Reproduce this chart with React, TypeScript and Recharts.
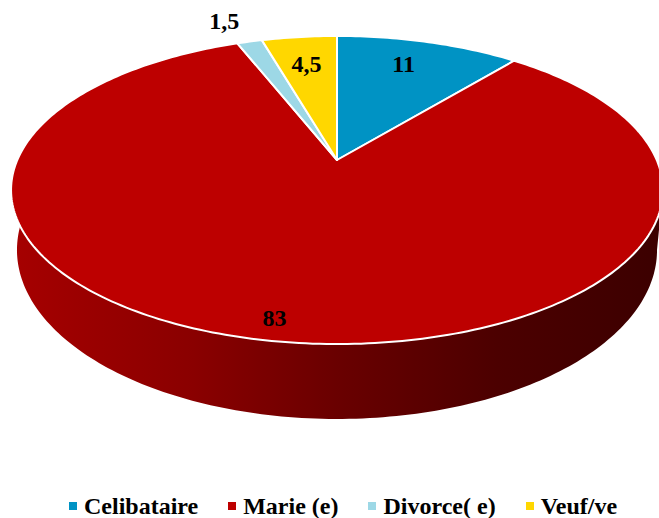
import React from 'react';
import { PieChart, Pie, Legend } from 'recharts';

const categories = ['Celibataire', 'Marie (e)', 'Divorce( e)', 'Veuf/ve'];
const shares = [11, 83, 1.5, 4.5];
const sliceColors = ['#0093c4', '#bd0000', '#9dd8e6', '#ffd700'];

const pieData = categories.map((name, i) => ({ name, value: shares[i], fill: sliceColors[i] }));

// perspective of the tilted disc, circle point (u, v) goes to the screen
const TILT = 0.1948;
const TOP_FACE = { sx: 319.7, sy: 148.2, dy: 0 };
const BOTTOM_FACE = { sx: 313.9, sy: 162.6, dy: 57 };
const RIGHT_EDGE = -11.2;
const LEFT_EDGE = -191.2;

// label placement: radius along the mid angle, then a small nudge
const labelPlacement = [
  { r: 0.8, dx: -9, dy: 1 },
  { r: 0.9, dx: -8, dy: -1 },
  { r: 1.2, dx: -11, dy: -1 },
  { r: 0.75, dx: -1, dy: 0 },
];

type Face = { sx: number; sy: number; dy: number };

const project = (cx: number, cy: number, deg: number, r: number, face: Face = TOP_FACE) => {
  const a = (deg * Math.PI) / 180;
  const u = Math.cos(a) * r;
  const v = Math.sin(a) * r;
  const d = 1 + TILT * v;
  return [cx + (face.sx * u) / d, cy + face.dy - (face.sy * v) / d];
};

const arcPoints = (cx: number, cy: number, from: number, to: number, face: Face = TOP_FACE) => {
  const steps = Math.max(2, Math.ceil(Math.abs(to - from)));
  const pts: number[][] = [];
  for (let i = 0; i <= steps; i++) {
    pts.push(project(cx, cy, from + ((to - from) * i) / steps, 1, face));
  }
  return pts;
};

const toPath = (pts: number[][]) =>
  pts.map((p, i) => `${i ? 'L' : 'M'}${p[0].toFixed(2)} ${p[1].toFixed(2)}`).join(' ');

const TopSlice = (props: any) => {
  const { cx, cy, startAngle, endAngle, fill } = props;
  const d = `M${cx} ${cy} ${toPath(arcPoints(cx, cy, startAngle, endAngle)).replace('M', 'L')} Z`;
  return <path d={d} fill={fill} stroke="#ffffff" strokeWidth={2} strokeLinejoin="round" />;
};

// side wall, only for the part of a slice that faces the viewer
const WallSlice = (props: any) => {
  const { cx, cy, startAngle, endAngle, index } = props;
  const from = Math.min(startAngle, RIGHT_EDGE);
  const to = Math.max(endAngle, LEFT_EDGE);
  if (from <= to) return null;
  const rim = arcPoints(cx, cy, from, to);
  const base = arcPoints(cx, cy, from, to, BOTTOM_FACE).reverse();
  const id = `wallShade${index}`;
  return (
    <g>
      <defs>
        <linearGradient id={id} gradientUnits="userSpaceOnUse" x1={11} y1={0} x2={659} y2={0}>
          <stop offset="0%" stopColor="#a60000" />
          <stop offset="28%" stopColor="#8a0000" />
          <stop offset="50%" stopColor="#6a0000" />
          <stop offset="75%" stopColor="#4c0000" />
          <stop offset="100%" stopColor="#3c0000" />
        </linearGradient>
      </defs>
      <path d={`${toPath(rim)} ${toPath(base).replace('M', 'L')} Z`} fill={`url(#${id})`} />
    </g>
  );
};

const renderLabel = (props: any) => {
  const { cx, cy, midAngle, index, value } = props;
  const place = labelPlacement[index];
  const [x, y] = project(cx, cy, midAngle, place.r);
  return (
    <text
      x={x + place.dx}
      y={y + place.dy}
      textAnchor="middle"
      dominantBaseline="central"
      fill="#000000"
      fontSize={24}
      fontWeight="bold"
      fontFamily="'Liberation Serif', serif"
    >
      {String(value).replace('.', ',')}
    </text>
  );
};

const renderLegend = (props: any) => {
  // both pies report their items, keep one of each
  const items = categories.map((name) => props.payload.find((p: any) => p.value === name)).filter(Boolean);
  return (
    <div style={{ display: 'flex', alignItems: 'center', gap: 30, whiteSpace: 'nowrap' }}>
      {items.map((item: any, i: number) => (
        <span key={item.value} style={{ display: 'flex', alignItems: 'center', gap: 7 }}>
          <span style={{ width: 8, height: 8, background: sliceColors[i], display: 'inline-block' }} />
          <span style={{ fontSize: 24, lineHeight: '28px', fontWeight: 'bold', fontFamily: "'Liberation Serif', serif", color: '#000' }}>
            {item.value}
          </span>
        </span>
      ))}
    </div>
  );
};

export default function App() {
  return (
    <div style={{ position: 'absolute', left: 0, top: 0, width: 659, height: 518, overflow: 'hidden' }}>
      <PieChart width={659} height={518} margin={{ top: 0, right: 0, bottom: 0, left: 0 }}>
        <Pie
          data={pieData}
          dataKey="value"
          nameKey="name"
          cx={337}
          cy={160}
          outerRadius={100}
          startAngle={90}
          endAngle={-270}
          legendType="none"
          shape={WallSlice}
          isAnimationActive={false}
        />
        <Pie
          data={pieData}
          dataKey="value"
          nameKey="name"
          cx={337}
          cy={160}
          outerRadius={100}
          startAngle={90}
          endAngle={-270}
          shape={TopSlice}
          label={renderLabel}
          labelLine={false}
          isAnimationActive={false}
        />
        <Legend content={renderLegend} wrapperStyle={{ left: 69, top: 492, width: 590 }} />
      </PieChart>
    </div>
  );
}
